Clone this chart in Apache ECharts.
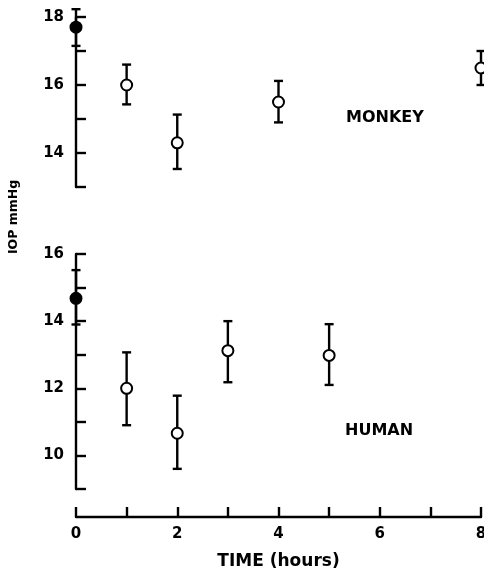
<!DOCTYPE html>
<html><head><meta charset="utf-8">
<script src="https://cdn.jsdelivr.net/npm/echarts@6/dist/echarts.min.js"></script>
<style>html,body{margin:0;padding:0;background:#fff}#c{width:484px;height:569px}</style>
</head><body><div id="c"></div>
<script>
// ---- data ----
const xTicks = [0, 2, 4, 6, 8];
const monkeyTime = [0, 1, 2, 4, 8];
const monkeyMean = [17.7, 16.0, 14.3, 15.5, 16.5];
const monkeyLow  = [17.15, 15.43, 13.53, 14.9, 16.0];
const monkeyHigh = [18.23, 16.6, 15.13, 16.12, 17.0];
const humanTime = [0, 1, 2, 3, 5];
const humanMean = [14.68, 12.0, 10.66, 13.12, 12.98];
const humanLow  = [13.9, 10.9, 9.6, 12.18, 12.1];
const humanHigh = [15.52, 13.07, 11.78, 14.0, 13.91];
const monkeyTicks = [14, 16, 18];
const humanTicks = [10, 12, 14, 16];

const FONT = 'DejaVu Sans';
const chart = echarts.init(document.getElementById('c'), null, {renderer: 'canvas'});

function errData(t, lo, hi) { return t.map((x, i) => [x, lo[i], hi[i]]); }
function ptData(t, m) {
  return t.map((x, i) => ({
    value: [x, m[i]],
    itemStyle: x === 0 ? {color: '#000', borderColor: '#000'} : {color: '#fff', borderColor: '#000'}
  }));
}
function renderErr(params, api) {
  const x = api.value(0);
  const p1 = api.coord([x, api.value(1)]);
  const p2 = api.coord([x, api.value(2)]);
  const w = 4.5;
  const st = {stroke: '#000', lineWidth: 2.4};
  return {type: 'group', children: [
    {type: 'line', shape: {x1: p1[0], y1: p1[1], x2: p2[0], y2: p2[1]}, style: st},
    {type: 'line', shape: {x1: p1[0]-w, y1: p1[1], x2: p1[0]+w, y2: p1[1]}, style: st},
    {type: 'line', shape: {x1: p2[0]-w, y1: p2[1], x2: p2[0]+w, y2: p2[1]}, style: st}
  ]};
}
const labelStyle = {color: '#000', fontFamily: FONT, fontWeight: 'bold', fontSize: 15};
function yAx(gi, min, max, ticks) {
  return {
    type: 'value', gridIndex: gi, min: min, max: max, interval: 1,
    axisLine: {show: true, lineStyle: {color: '#000', width: 2.4}},
    axisTick: {show: true, inside: true, length: 10, lineStyle: {color: '#000', width: 2.4}},
    splitLine: {show: false},
    axisLabel: Object.assign({margin: 12, formatter: v => ticks.indexOf(v) >= 0 ? String(v) : ''}, labelStyle)
  };
}
const option = {
  animation: false,
  backgroundColor: '#fff',
  grid: [
    {left: 76, right: 3, top: 17, height: 170, containLabel: false, outerBoundsMode: 'none'},
    {left: 76, right: 3, top: 254, height: 235, containLabel: false, outerBoundsMode: 'none'}
  ],
  xAxis: [
    {type: 'value', gridIndex: 0, min: 0, max: 8, interval: 1, show: false},
    {type: 'value', gridIndex: 1, min: 0, max: 8, interval: 1, offset: 28,
     axisLine: {show: true, lineStyle: {color: '#000', width: 2.4}},
     axisTick: {show: true, inside: true, length: 10, lineStyle: {color: '#000', width: 2.4}},
     splitLine: {show: false},
     axisLabel: Object.assign({margin: 10, hideOverlap: false, formatter: v => xTicks.indexOf(v) >= 0 ? String(v) : ''}, labelStyle),
     name: 'TIME (hours)', nameLocation: 'middle', nameGap: 36,
     nameTextStyle: {color: '#000', fontFamily: FONT, fontWeight: 'bold', fontSize: 17}}
  ],
  yAxis: [yAx(0, 13, 18, monkeyTicks), yAx(1, 9, 16, humanTicks)],
  graphic: [
    {type: 'text', left: 346, top: 110, style: {text: 'MONKEY', fill: '#000', font: 'bold 16px "DejaVu Sans"'}},
    {type: 'text', left: 345, top: 423, style: {text: 'HUMAN', fill: '#000', font: 'bold 16px "DejaVu Sans"'}},
    {type: 'text', x: 14, y: 217, rotation: Math.PI / 2,
     style: {text: 'IOP mmHg', fill: '#000', font: 'bold 12.5px "DejaVu Sans"', align: 'center', verticalAlign: 'middle'}}
  ],
  series: [
    {type: 'custom', xAxisIndex: 0, yAxisIndex: 0, renderItem: renderErr, data: errData(monkeyTime, monkeyLow, monkeyHigh), z: 2},
    {type: 'scatter', xAxisIndex: 0, yAxisIndex: 0, symbol: 'circle', symbolSize: 11,
     itemStyle: {borderWidth: 2, opacity: 1}, data: ptData(monkeyTime, monkeyMean), z: 3},
    {type: 'custom', xAxisIndex: 1, yAxisIndex: 1, renderItem: renderErr, data: errData(humanTime, humanLow, humanHigh), z: 2},
    {type: 'scatter', xAxisIndex: 1, yAxisIndex: 1, symbol: 'circle', symbolSize: 11,
     itemStyle: {borderWidth: 2, opacity: 1}, data: ptData(humanTime, humanMean), z: 3}
  ]
};
chart.setOption(option);
</script></body></html>
